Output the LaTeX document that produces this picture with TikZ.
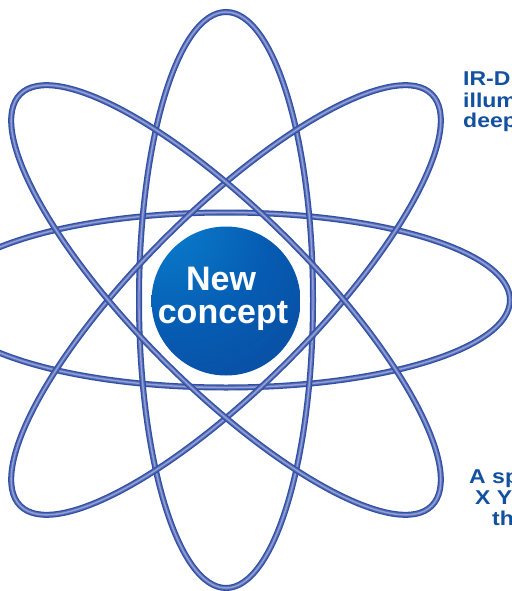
\documentclass[tikz,border=0pt]{standalone}
\usepackage{fontspec}
\setmainfont{Liberation Sans}
\definecolor{tubedark}{RGB}{48,78,162}
\definecolor{tubemid}{RGB}{85,110,185}
\definecolor{tubelight}{RGB}{150,160,212}
\definecolor{txtblue}{RGB}{18,80,160}
\definecolor{ballhl}{RGB}{10,130,208}
\definecolor{ballmid}{RGB}{6,92,178}
\definecolor{balledge}{RGB}{12,64,148}
\pgfdeclareradialshading{coreball}{\pgfpoint{-24bp}{30bp}}{%
  color(0bp)=(ballhl); color(30bp)=(ballmid); color(70bp)=(balledge); color(100bp)=(balledge)}
\tikzset{
  tubeA/.style={draw=tubedark, line width=6},
  tubeB/.style={draw=tubemid, line width=3.6},
  tubeC/.style={draw=tubelight, line width=1.4},
  sidetext/.style={text=txtblue, inner sep=0, xscale=1.15, font=\fontsize{20}{20}\selectfont\bfseries},
  coretext/.style={text=white, inner sep=0, anchor=base, font=\fontsize{34}{34}\selectfont\bfseries}
}
\newcommand{\orbit}[3]{%
  \draw[tubeA, rotate around={#3:(226,300)}] (226,300) ellipse [x radius=#1, y radius=#2];
  \draw[tubeB, rotate around={#3:(226,300)}] (226,300) ellipse [x radius=#1, y radius=#2];
  \draw[tubeC, rotate around={#3:(226,300)}] (226,300) ellipse [x radius=#1, y radius=#2];
}
\begin{document}
\begin{tikzpicture}[x=1pt,y=-1pt]
\useasboundingbox (0,0) rectangle (511,591);
\fill[white] (0,0) rectangle (511,591);
% orbits
\orbit{284}{87.5}{0}
\orbit{87}{288}{0}
\orbit{291}{87}{45}
\orbit{291}{87}{-45}
% core
\fill[white] (226,301) circle [radius=80];
\shade[shading=coreball] (226,301) circle [radius=74.5];
\node[coretext] (new) at (221,290) {New};
\node[coretext] (concept) at (223,323) {concept};
% side texts
\node[sidetext, anchor=base west] (a1) at (463,86) {IR-D};
\node[sidetext, anchor=base west] (a2) at (463,107) {illum};
\node[sidetext, anchor=base west] (a3) at (463,128) {deep};
\node[sidetext, anchor=base west] (b1) at (469,483) {A sp};
\node[sidetext, anchor=base west] (b2) at (475,504) {X Y};
\node[sidetext, anchor=base west] (b3) at (492,525) {th};
\end{tikzpicture}
\end{document}
